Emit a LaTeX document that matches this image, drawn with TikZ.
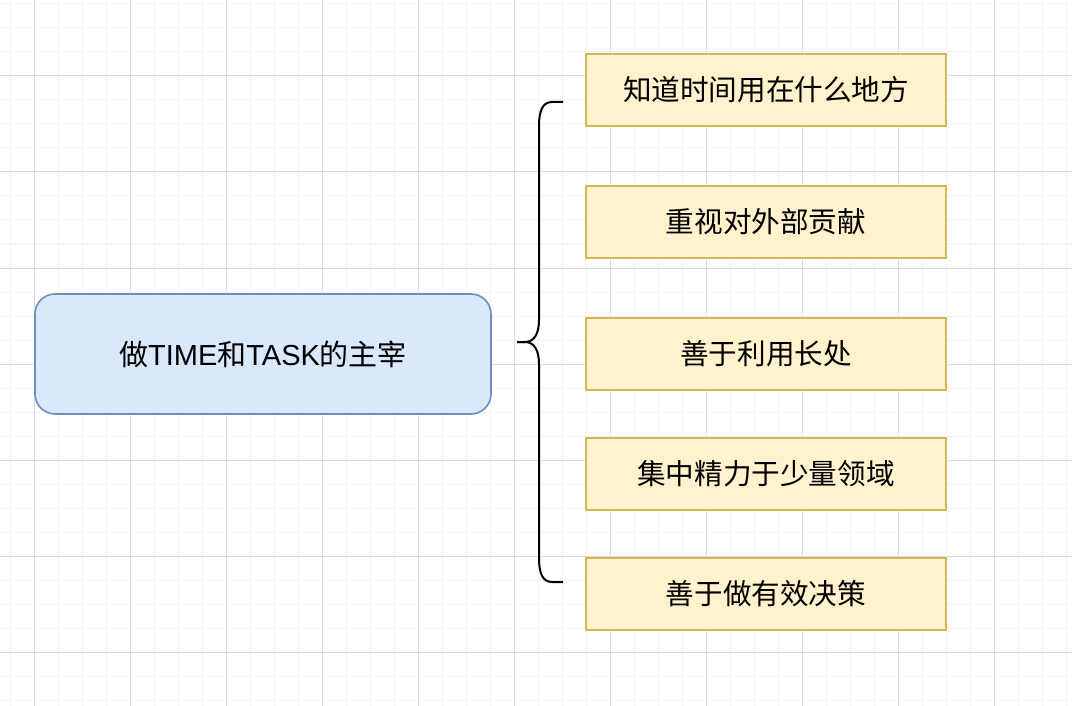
\documentclass[tikz,border=0pt]{standalone}
\usepackage{fontspec}
\setmainfont{Liberation Sans}
\newfontfamily\cjk{Noto Sans CJK SC}
\definecolor{gridminor}{HTML}{F5F5F5}
\definecolor{gridmajor}{HTML}{DDDDDD}
\definecolor{bluefill}{HTML}{DAE8FC}
\definecolor{bluedraw}{HTML}{6C8EBF}
\definecolor{yelfill}{HTML}{FFF2CC}
\definecolor{yeldraw}{HTML}{D6B656}
\tikzset{
  minorline/.style={draw=gridminor, line width=1pt},
  majorline/.style={draw=gridmajor, line width=1pt},
  mainbox/.style={draw=bluedraw, fill=bluefill, line width=1.6pt, rounded corners=20pt,
    minimum width=456pt, minimum height=120pt, inner sep=0pt,
    font=\fontsize{29}{34}\selectfont},
  itembox/.style={draw=yeldraw, fill=yelfill, line width=2pt,
    minimum width=360pt, minimum height=72pt, inner sep=0pt,
    font=\cjk\fontsize{28.6}{34}\selectfont},
  bracel/.style={draw=black, line width=2pt}
}
\begin{document}
\begin{tikzpicture}[x=1pt,y=-1pt]
\fill[white] (0,0) rectangle (1072,706);
\useasboundingbox (0,0) rectangle (1072,706);
\foreach \x in {10,34,...,1066} \draw[minorline] (\x,0) -- (\x,706);
\foreach \y in {4,28,...,700} \draw[minorline] (0,\y) -- (1072,\y);
\foreach \x in {34,130,...,994} \draw[majorline] (\x,0) -- (\x,706);
\foreach \y in {76,172,...,652} \draw[majorline] (0,\y) -- (1072,\y);

\node[mainbox] (m) at (263,354) {{\cjk 做}TIME{\cjk 和}TASK{\cjk 的主宰}};

\node[itembox] (a) at (766,90) {知道时间用在什么地方};
\node[itembox] (b) at (766,222) {重视对外部贡献};
\node[itembox] (c) at (766,354) {善于利用长处};
\node[itembox] (d) at (766,474) {集中精力于少量领域};
\node[itembox] (e) at (766,594) {善于做有效决策};

\coordinate (btop) at (563,102);
\coordinate (btip) at (517,342);
\coordinate (bbot) at (563,582);
\draw[bracel] (btop) -- (552,102) .. controls (543,102) and (539,110) .. (539,126)
  -- (539,320) .. controls (539,334) and (534,342) .. (525,342) -- (btip);
\draw[bracel] (bbot) -- (552,582) .. controls (543,582) and (539,574) .. (539,558)
  -- (539,364) .. controls (539,350) and (534,342) .. (525,342) -- (btip);
\end{tikzpicture}
\end{document}
